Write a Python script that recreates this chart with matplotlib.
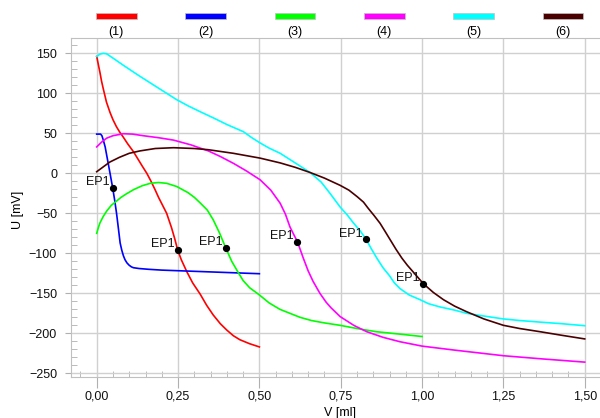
import matplotlib
matplotlib.use('Agg')
import matplotlib.pyplot as plt
from matplotlib.patches import Rectangle
from matplotlib.ticker import MultipleLocator

plt.rcParams['font.family'] = ['Liberation Sans', 'DejaVu Sans']
plt.rcParams['font.size'] = 9

# curve data
v1 = [0, 0.005, 0.01, 0.015, 0.02, 0.03, 0.041, 0.05, 0.061, 0.07, 0.082, 0.095,
      0.113, 0.128, 0.14, 0.154, 0.167, 0.18, 0.19, 0.2, 0.215, 0.23, 0.24,
      0.249, 0.26, 0.277, 0.295, 0.318, 0.338, 0.358, 0.38, 0.40, 0.42, 0.44,
      0.47, 0.5]
u1 = [146, 136, 126, 115, 106, 89, 76, 67, 58, 52, 45, 37,
      27, 17, 9, 0, -10, -21, -30, -38, -50, -68, -82,
      -96, -108, -123, -137, -151, -165, -177, -188, -196, -203, -208,
      -213, -217]

v2 = [0, 0.012, 0.016, 0.02, 0.026, 0.031, 0.036, 0.041, 0.049, 0.055, 0.061,
      0.067, 0.072, 0.077, 0.082, 0.087, 0.093, 0.1, 0.107, 0.113, 0.13, 0.16,
      0.2, 0.3, 0.4, 0.5]
u2 = [49, 49, 47, 42, 33, 22, 11, 0, -18, -33, -50,
      -70, -87, -96, -103, -108, -112, -115, -117, -118, -119, -120,
      -121, -122.5, -124, -125.5]

v3 = [0, 0.005, 0.01, 0.02, 0.031, 0.045, 0.06, 0.075, 0.09, 0.113, 0.14,
      0.165, 0.19, 0.215, 0.246, 0.28, 0.3, 0.318, 0.34, 0.358, 0.378, 0.397,
      0.415, 0.435, 0.45, 0.47, 0.5, 0.53, 0.563, 0.6, 0.625, 0.66, 0.7,
      0.748, 0.8, 0.86, 0.932, 1.0]
u3 = [-75, -68, -62, -54, -47, -40, -35, -30, -26, -20.5, -15.5,
      -12.5, -11.5, -12.5, -16.5, -24, -30, -37, -46, -58, -75, -93.5,
      -110, -124, -134, -143, -152, -162, -170, -176, -180, -184, -187,
      -190, -194, -198, -201, -204]

v4 = [0, 0.015, 0.031, 0.05, 0.082, 0.11, 0.143, 0.19, 0.236, 0.29, 0.343,
      0.38, 0.42, 0.46, 0.502, 0.535, 0.564, 0.58, 0.594, 0.605, 0.617, 0.635,
      0.65, 0.665, 0.686, 0.705, 0.72, 0.748, 0.79, 0.83, 0.88, 0.932, 1.0,
      1.1, 1.25, 1.37, 1.5]
u4 = [33, 39, 44, 47, 49.5, 49, 47, 44.5, 41.5, 35.5, 28,
      21, 12.5, 3, -8, -21, -37.5, -51, -67, -76, -85.5, -106,
      -122, -135, -150, -161, -168, -179, -190, -198, -205, -210.5, -216,
      -221, -228, -232, -236]

v5 = [0, 0.01, 0.02, 0.03, 0.05, 0.082, 0.13, 0.184, 0.246, 0.28, 0.318, 0.36,
      0.4, 0.451, 0.475, 0.502, 0.53, 0.564, 0.61, 0.656, 0.69, 0.717, 0.748,
      0.77, 0.789, 0.81, 0.828, 0.845, 0.861, 0.88, 0.9, 0.915, 0.932, 0.96,
      0.994, 1.02, 1.055, 1.1, 1.137, 1.2, 1.25, 1.3, 1.363, 1.43, 1.5]
u5 = [146, 149, 150, 149.5, 144, 135, 122, 108, 92, 84.5, 77, 69,
      61, 52, 45, 38, 31.5, 25, 13, 1, -11, -25, -42,
      -52, -62, -72, -82.5, -95, -106, -118, -128, -137, -144, -152,
      -158, -163, -167, -171, -175, -179, -182, -184, -186, -188, -190.5]

v6 = [0, 0.02, 0.04, 0.07, 0.1, 0.133, 0.18, 0.236, 0.3, 0.343, 0.42, 0.502,
      0.564, 0.61, 0.656, 0.7, 0.748, 0.775, 0.8, 0.82, 0.835, 0.853, 0.871,
      0.887, 0.902, 0.92, 0.938, 0.955, 0.97, 0.987, 1.004, 1.035, 1.066, 1.1,
      1.137, 1.19, 1.25, 1.3, 1.363, 1.43, 1.5]
u6 = [2, 8, 14, 20, 25, 28, 31, 32, 31, 29.5, 25, 19,
      13, 7.5, 1, -6, -15, -21, -29, -36, -44, -53, -62.5,
      -73, -83, -95, -106, -115, -122, -130, -138, -149, -158, -166,
      -173, -182, -190, -194, -198, -202.5, -207]

# EP1 markers
ep_v = [0.249, 0.049, 0.397, 0.617, 0.828, 1.004]
ep_u = [-96, -18.5, -93.5, -85.5, -82.5, -138]

labels = ['(1)', '(2)', '(3)', '(4)', '(5)', '(6)']
colors = ['#ff0000', '#0000ff', '#00ff00', '#ff00ff', '#00ffff', '#4a0000']

x_ticks = [0, 0.25, 0.5, 0.75, 1.0, 1.25, 1.5]
y_ticks = [-250, -200, -150, -100, -50, 0, 50, 100, 150]

W, H = 600, 418
fig = plt.figure(figsize=(W / 100, H / 100), dpi=100)
ax = fig.add_axes([71 / W, 41 / H, (W - 71) / W, (377 - 38.3) / H])

for v, u, c in zip([v1, v2, v3, v4, v5, v6], [u1, u2, u3, u4, u5, u6], colors):
    ax.plot(v, u, color=c, lw=1.2, zorder=3)

ax.plot(ep_v, ep_u, 'o', color='black', ms=4.2, zorder=4)
for v, u in zip(ep_v, ep_u):
    ax.annotate('EP1', (v, u), xytext=(-2.5, 2), textcoords='offset points',
                ha='right', va='baseline', fontsize=9, color='#111111')

ax.set_xlim(-0.079, 1.547)
ax.set_ylim(-254.6, 168.75)

ax.set_xticks(x_ticks)
ax.set_xticklabels([('%.2f' % t).replace('.', ',') for t in x_ticks])
ax.set_yticks(y_ticks)
ax.xaxis.set_minor_locator(MultipleLocator(0.05))
ax.yaxis.set_minor_locator(MultipleLocator(10))

ax.grid(True, which='major', color='#d0d0d0', lw=1.0, zorder=0)
ax.tick_params(which='major', axis='x', direction='out', length=8,
               color='#b0b0b0', pad=2)
ax.tick_params(which='major', axis='y', direction='out', length=4,
               color='#b0b0b0', pad=6)
ax.tick_params(which='minor', direction='in', length=4.5, color='#b0b0b0')
ax.tick_params(labelsize=9, labelcolor='#111111')

for s in ['left', 'bottom', 'top']:
    ax.spines[s].set_color('#c0c0c0')
ax.spines['right'].set_visible(False)

fig.text(18 / W, 1 - 210 / H, 'U [mV]', rotation=90, ha='center',
         va='center', fontsize=9)
fig.text(340 / W, 1 - 413 / H, 'V [ml]', ha='center', va='center',
         fontsize=9)

# legend strip above plot
for i, (lab, c) in enumerate(zip(labels, colors)):
    cx = 116.3 + i * 89.3
    fig.patches.append(Rectangle(((cx - 20.3) / W, 1 - 19.3 / H), 40.6 / W,
                                 6.6 / H, transform=fig.transFigure,
                                 facecolor=c, edgecolor='#c0c0c0', lw=0.5))
    fig.text(cx / W, 1 - 31.7 / H, lab, ha='center', va='center',
             fontsize=9)

plt.savefig('out.png', dpi=100)
